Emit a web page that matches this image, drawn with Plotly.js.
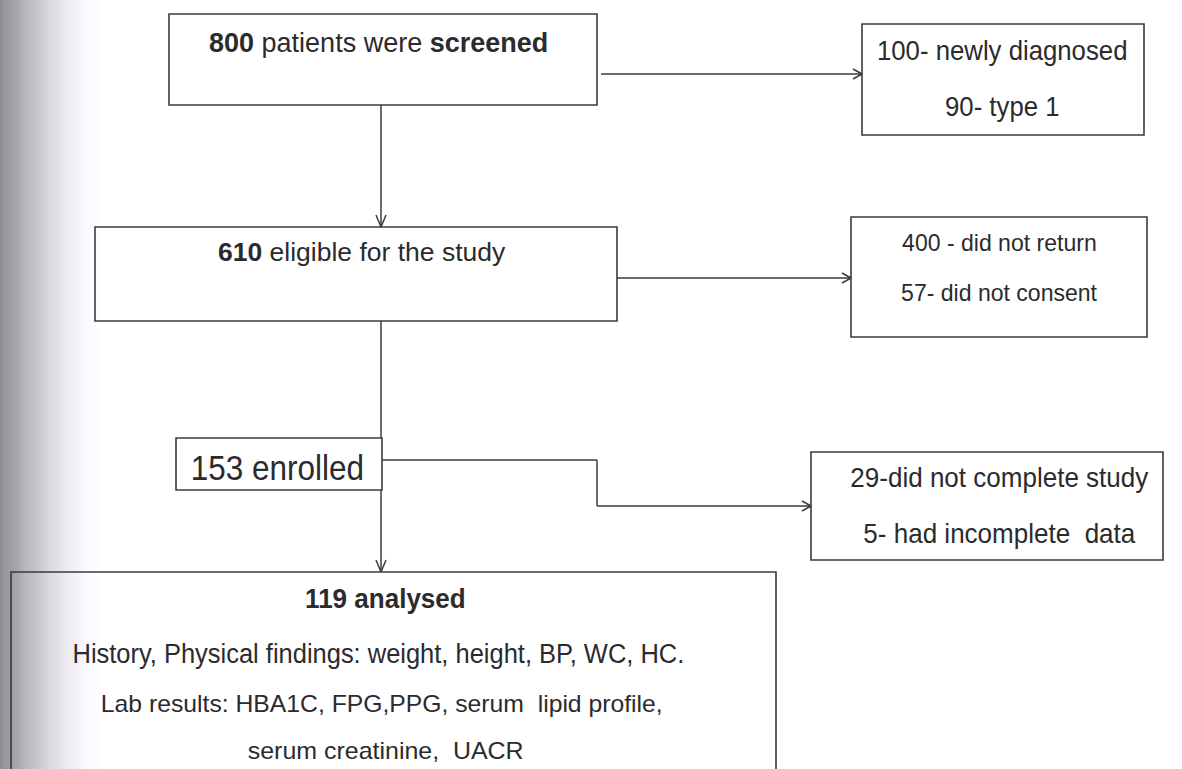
<!DOCTYPE html>
<html>
<head>
<meta charset="utf-8">
<script src="https://cdn.plot.ly/plotly-3.0.1.min.js"></script>
<style>html,body{margin:0;padding:0;background:#fff;}#chart{width:1182px;height:769px;}</style>
</head>
<body>
<div id="chart"></div>
<script>
// ---- content of the flow diagram ----
const stageCounts = ["800", "610", "153", "119"];
const stageTexts = ["patients were", "eligible for the study", "enrolled", "analysed"];
const exclusionTexts = [
  ["100- newly diagnosed", "90- type 1"],
  ["400 - did not return", "57- did not consent"],
  ["29-did not complete study", "5- had incomplete  data"]
];
const analysisLines = [
  "History, Physical findings: weight, height, BP, WC, HC.",
  "Lab results: HBA1C, FPG,PPG, serum  lipid profile,",
  "serum creatinine,  UACR"
];

// ---- layout geometry (pixel space, y downwards) ----
const mainBoxes = [[169, 597, 14, 105], [95, 617, 227, 321], [176, 382, 438, 490], [11, 776, 572, 790]];
const sideBoxes = [[862, 1144, 24, 135], [851, 1147, 217, 337], [811, 1163, 452, 560]];
const spineX = 381;

const FONT = '"Liberation Sans", Arial, sans-serif';
const INK = '#2b2b2e';
const LINE = '#3a3a40';

const shapes = [];
const annotations = [];
const squeeze = []; // horizontal scale per annotation (narrow typeface look)

// background scan shading on left edge
const nStrip = 50;
for (let i = 0; i < nStrip; i++) {
  const t = i / nStrip;
  const g = Math.round(255 - 115 * Math.pow(1 - t, 1.7));
  const b = Math.min(255, g + 6);
  shapes.push({type: 'rect', xref: 'x', yref: 'y', x0: i * 2.1, x1: (i + 1) * 2.1 + 0.5, y0: 0, y1: 769,
    line: {width: 0}, fillcolor: `rgb(${g},${g},${b})`, layer: 'below'});
}

function rect(b) {
  shapes.push({type: 'rect', xref: 'x', yref: 'y', x0: b[0], x1: b[1], y0: b[2], y1: b[3],
    line: {color: LINE, width: 1.6}, fillcolor: 'rgba(0,0,0,0)'});
}
function seg(x0, y0, x1, y1) {
  shapes.push({type: 'line', xref: 'x', yref: 'y', x0, y0, x1, y1, line: {color: LINE, width: 1.5}});
}
function headRight(x, y) { seg(x - 9, y - 5, x, y); seg(x - 9, y + 5, x, y); }
function headDown(x, y) { seg(x - 5, y - 12, x, y); seg(x + 5, y - 12, x, y); }
function txt(x, y, s, size, sx) {
  annotations.push({xref: 'x', yref: 'y', x, y, text: s, showarrow: false, xanchor: 'center', yanchor: 'middle',
    font: {family: FONT, size, color: INK}});
  squeeze.push(sx);
}

mainBoxes.forEach(rect);
sideBoxes.forEach(rect);

// vertical spine
seg(spineX, mainBoxes[0][3], spineX, mainBoxes[1][2]); headDown(spineX, mainBoxes[1][2]);
seg(spineX, mainBoxes[1][3], spineX, mainBoxes[2][2]);
seg(spineX, mainBoxes[2][3], spineX, mainBoxes[3][2]); headDown(spineX, mainBoxes[3][2]);

// side arrows
seg(601, 74, sideBoxes[0][0], 74); headRight(sideBoxes[0][0], 74);
seg(mainBoxes[1][1], 278, sideBoxes[1][0], 278); headRight(sideBoxes[1][0], 278);
seg(mainBoxes[2][1], 460, 597, 460); seg(597, 460, 597, 506); seg(597, 506, sideBoxes[2][0], 506); headRight(sideBoxes[2][0], 506);

// main box texts
txt(378, 43, `<b>${stageCounts[0]}</b> ${stageTexts[0]} <b>screened</b>`, 27, 1);
txt(362, 252, `<b>${stageCounts[1]}</b> ${stageTexts[1]}`, 26.5, 1);
txt(277, 467, `${stageCounts[2]} ${stageTexts[2]}`, 35, 0.9);
txt(385, 598, `<b>${stageCounts[3]} ${stageTexts[3]}</b>`, 28, 0.93);
txt(378, 653, analysisLines[0], 28, 0.91);
txt(382, 703, analysisLines[1], 24, 1.03);
txt(385, 750, analysisLines[2], 24, 1.04);

// side box texts
const sideTextX = [1002, 999, 999.5];
const sideTextY = [[50, 106], [242, 292], [477, 533]];
const sideSize = [28, 24, 28];
const sideScale = [0.92, 0.96, 0.93];
exclusionTexts.forEach((lines, i) => {
  lines.forEach((s, j) => txt(sideTextX[i], sideTextY[i][j], s, sideSize[i], sideScale[i]));
});

const layout = {
  width: 1182, height: 769,
  margin: {l: 0, r: 0, t: 0, b: 0},
  paper_bgcolor: '#ffffff', plot_bgcolor: '#ffffff',
  xaxis: {range: [0, 1182], visible: false, fixedrange: true},
  yaxis: {range: [769, 0], visible: false, fixedrange: true},
  showlegend: false,
  shapes, annotations
};
Plotly.newPlot('chart', [{x: [0], y: [0], mode: 'markers', marker: {opacity: 0}, hoverinfo: 'skip'}], layout, {staticPlot: true})
  .then(() => {
    document.querySelectorAll('#chart g.annotation').forEach(g => {
      const idx = +g.getAttribute('data-index');
      const s = squeeze[idx];
      if (!s || s === 1) return;
      const t = g.querySelector('text.annotation-text');
      if (!t) return;
      const bb = t.getBBox();
      const cx = bb.x + bb.width / 2;
      const prev = t.getAttribute('transform') || '';
      t.setAttribute('transform', `${prev} translate(${cx},0) scale(${s},1) translate(${-cx},0)`);
    });
  });
</script>
</body>
</html>
